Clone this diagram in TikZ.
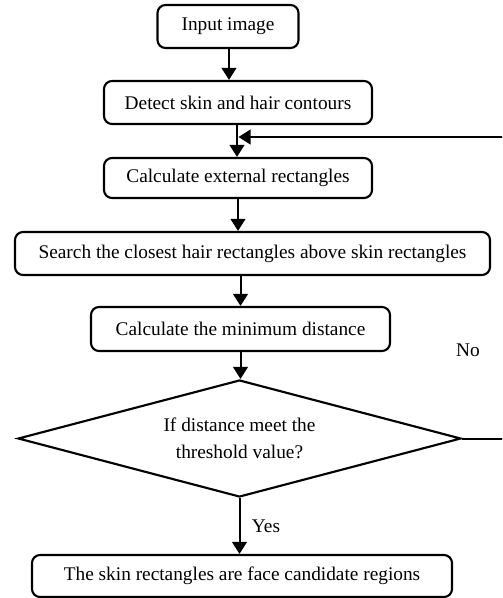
\documentclass[tikz,border=0pt]{standalone}
\usepackage{fontspec}
\setmainfont{Liberation Serif}
\usetikzlibrary{shapes.geometric,arrows.meta}
\begin{document}
\begin{tikzpicture}[x=0.75pt,y=-0.75pt,
  box/.style={draw,rounded corners=6pt,line width=1.6pt,inner sep=0pt,align=center},
  dia/.style={draw,diamond,line width=1.6pt,inner sep=0pt,align=center,shape aspect=3.79},
  arr/.style={line width=1.5pt,-{Triangle[width=11pt,length=9pt]}},
  lbl/.style={inner sep=0pt},
  font=\fontsize{14.5}{20}\selectfont]
\useasboundingbox (0,0) rectangle (502,598);
\clip (0,0) rectangle (502,598);
\node[box,minimum width=105.75pt,minimum height=32.25pt] (input) at (228,26.5) {Input image};
\node[box,minimum width=201pt,minimum height=32.25pt] (detect) at (238,102.5) {Detect skin and hair contours};
\node[box,minimum width=201pt,minimum height=30pt] (calc) at (238,178) {Calculate external rectangles};
\node[box,minimum width=356.25pt,minimum height=32.25pt] (search) at (252.5,253.5) {Search the closest hair rectangles above skin rectangles};
\node[box,minimum width=224.25pt,minimum height=33pt] (mind) at (240.5,329) {Calculate the minimum distance};
\node[dia,minimum width=332.25pt,minimum height=87.75pt] (cond) at (239.5,438.5) {If distance meet the\\threshold value?};
\node[box,minimum width=315pt,minimum height=31.5pt] (final) at (242,576) {The skin rectangles are face candidate regions};
\node[lbl] (no) at (468,350) {No};
\node[lbl] (yes) at (266,526) {Yes};
\coordinate (loopin) at (238.5,137);
\draw[arr] ([xshift=0.75pt]input.south) -- ([xshift=0.75pt]input.south |- detect.north);
\draw[arr] ([xshift=-0.75pt]detect.south) -- ([xshift=-0.75pt]detect.south |- calc.north);
\draw[arr] (calc.south) -- (calc.south |- search.north);
\draw[arr] (mind.north |- search.south) -- (mind.north);
\draw[arr] (mind.south) -- (mind.south |- cond.north);
\draw[arr] (cond.south) -- (cond.south |- final.north);
\draw[arr] (cond.east) -- ++(50,0) |- (loopin);
\end{tikzpicture}
\end{document}
